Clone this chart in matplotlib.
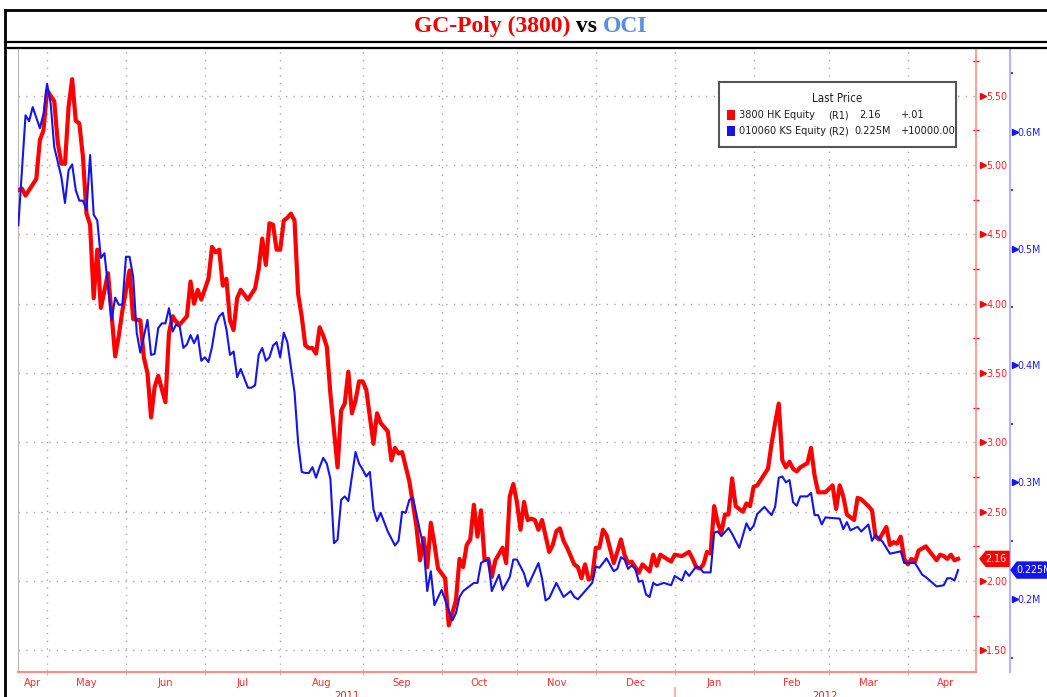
import numpy as np
import pandas as pd
import matplotlib
matplotlib.use("Agg")
import matplotlib.pyplot as plt
from matplotlib.patches import Rectangle, Polygon
from matplotlib.lines import Line2D
from matplotlib.offsetbox import TextArea, HPacker, AnnotationBbox
from matplotlib.textpath import TextPath
from matplotlib import font_manager

# ── Data: trading-day number (from 2011-04-20) and last price ───────
START = "2011-04-20"

red_day = [0, 1, 2, 5, 6, 7, 8, 10, 11, 12, 13, 14, 15, 16, 17, 18, 19, 20, 21, 22,
           23, 25, 27, 28, 29, 31, 32, 34, 35, 36, 37, 38, 39, 41, 42, 43, 44, 45, 47, 48,
           49, 50, 51, 53, 54, 55, 56, 57, 58, 59, 60, 61, 62, 64, 66, 67, 68, 69, 70, 71,
           72, 73, 74, 75, 76, 77, 78, 79, 80, 81, 82, 83, 84, 85, 86, 87, 89, 90, 91, 92,
           93, 94, 95, 96, 97, 99, 100, 101, 103, 104, 105, 106, 107, 109, 110, 111, 112, 113, 114, 115,
           116, 117, 119, 120, 122, 123, 124, 125, 126, 127, 128, 129, 130, 131, 132, 133, 135, 136, 137, 138,
           139, 140, 141, 142, 143, 144, 145, 146, 148, 149, 150, 151, 152, 153, 154, 155, 156, 157, 158, 159,
           160, 161, 162, 163, 164, 166, 167, 168, 169, 170, 171, 172, 173, 174, 176, 177, 178, 179, 182, 183,
           185, 187, 188, 189, 190, 191, 192, 193, 194, 195, 196, 197, 198, 199, 200, 202, 203, 204, 205, 206,
           207, 209, 210, 211, 212, 213, 214, 215, 216, 217, 218, 220, 221, 222, 223, 225, 227, 228, 229, 230,
           231, 232, 233, 234, 235, 237, 238, 239, 240, 242, 243, 244, 245, 246, 247, 248, 249, 250, 251, 253,
           256, 257, 258, 259, 260, 261, 262]
red_px = [4.82, 4.83, 4.78, 4.90, 5.18, 5.25, 5.54, 5.46, 5.16, 5.01, 5.01, 5.42, 5.62, 5.32, 5.30, 5.06, 4.65, 4.57, 4.04, 4.39,
          3.97, 4.22, 3.62, 3.77, 3.95, 4.24, 3.89, 3.88, 3.61, 3.50, 3.18, 3.40, 3.48, 3.29, 3.79, 3.91, 3.87, 3.85, 3.91, 4.16,
          4.00, 4.10, 4.03, 4.18, 4.41, 4.37, 4.39, 4.13, 4.18, 3.88, 3.81, 4.04, 4.10, 4.03, 4.11, 4.25, 4.47, 4.28, 4.58, 4.57,
          4.39, 4.39, 4.60, 4.62, 4.65, 4.60, 4.07, 3.91, 3.70, 3.68, 3.68, 3.64, 3.83, 3.77, 3.69, 3.35, 2.82, 3.23, 3.28, 3.51,
          3.21, 3.30, 3.44, 3.44, 3.38, 2.99, 3.21, 3.14, 3.08, 2.87, 2.96, 2.92, 2.93, 2.72, 2.56, 2.39, 2.15, 2.31, 2.10, 2.42,
          2.27, 2.09, 2.02, 1.68, 1.86, 2.16, 2.10, 2.26, 2.30, 2.55, 2.32, 2.51, 2.15, 2.16, 2.03, 2.15, 2.24, 2.13, 2.61, 2.70,
          2.57, 2.37, 2.57, 2.44, 2.45, 2.44, 2.37, 2.44, 2.21, 2.26, 2.36, 2.38, 2.29, 2.24, 2.18, 2.12, 2.10, 2.02, 2.12, 2.01,
          2.03, 2.24, 2.24, 2.37, 2.33, 2.13, 2.21, 2.30, 2.19, 2.13, 2.14, 2.10, 2.06, 2.12, 2.07, 2.19, 2.11, 2.19, 2.14, 2.19,
          2.18, 2.21, 2.16, 2.10, 2.09, 2.12, 2.21, 2.20, 2.54, 2.42, 2.35, 2.48, 2.48, 2.74, 2.54, 2.50, 2.56, 2.54, 2.68, 2.69,
          2.73, 2.81, 2.99, 3.14, 3.28, 2.87, 2.82, 2.86, 2.81, 2.79, 2.82, 2.85, 2.96, 2.76, 2.64, 2.64, 2.69, 2.52, 2.69, 2.61,
          2.48, 2.46, 2.44, 2.60, 2.59, 2.54, 2.51, 2.32, 2.30, 2.39, 2.26, 2.28, 2.27, 2.32, 2.16, 2.12, 2.16, 2.14, 2.22, 2.25,
          2.15, 2.19, 2.18, 2.16, 2.19, 2.15, 2.16]

blue_day = [0, 2, 3, 4, 5, 6, 7, 8, 9, 10, 12, 13, 14, 15, 16, 17, 18, 19, 20, 21,
            22, 23, 24, 26, 27, 28, 29, 30, 31, 32, 33, 34, 36, 37, 38, 39, 40, 41, 42, 43,
            44, 45, 46, 47, 48, 49, 50, 51, 52, 53, 54, 55, 56, 57, 58, 59, 60, 61, 62, 64,
            65, 66, 67, 68, 69, 70, 71, 72, 73, 74, 75, 77, 78, 79, 80, 81, 82, 83, 84, 85,
            86, 87, 88, 89, 90, 91, 92, 94, 95, 96, 97, 98, 99, 100, 101, 103, 105, 106, 107, 108,
            109, 110, 112, 113, 114, 115, 116, 118, 121, 122, 123, 124, 127, 128, 129, 130, 131, 132, 134, 135,
            137, 138, 139, 141, 142, 145, 146, 147, 148, 150, 152, 154, 155, 156, 158, 160, 161, 162, 164, 166,
            167, 168, 169, 170, 171, 172, 173, 174, 175, 176, 177, 178, 180, 182, 183, 185, 186, 187, 189, 190,
            191, 193, 194, 195, 196, 198, 199, 201, 203, 204, 205, 206, 208, 210, 211, 212, 213, 214, 215, 216,
            217, 218, 220, 221, 222, 223, 224, 225, 229, 230, 231, 232, 234, 235, 237, 238, 239, 240, 241, 243,
            246, 247, 250, 252, 253, 256, 258, 259, 260, 261, 262]
blue_px = [0.520, 0.614, 0.609, 0.621, 0.612, 0.603, 0.615, 0.641, 0.624, 0.587, 0.561, 0.539, 0.567, 0.572, 0.550, 0.541, 0.541, 0.533, 0.580, 0.529,
           0.524, 0.492, 0.496, 0.439, 0.458, 0.452, 0.452, 0.493, 0.493, 0.476, 0.428, 0.411, 0.439, 0.409, 0.410, 0.432, 0.436, 0.436, 0.449, 0.429,
           0.435, 0.433, 0.415, 0.418, 0.426, 0.419, 0.426, 0.404, 0.407, 0.403, 0.416, 0.435, 0.442, 0.445, 0.431, 0.409, 0.412, 0.390, 0.397, 0.381,
           0.381, 0.383, 0.409, 0.415, 0.404, 0.407, 0.417, 0.420, 0.407, 0.428, 0.420, 0.377, 0.334, 0.309, 0.308, 0.308, 0.313, 0.304, 0.313, 0.321,
           0.316, 0.303, 0.248, 0.251, 0.285, 0.288, 0.284, 0.326, 0.316, 0.311, 0.305, 0.309, 0.277, 0.267, 0.274, 0.258, 0.246, 0.250, 0.275, 0.274,
           0.285, 0.287, 0.258, 0.245, 0.207, 0.224, 0.195, 0.208, 0.182, 0.188, 0.202, 0.207, 0.214, 0.214, 0.231, 0.233, 0.234, 0.207, 0.221, 0.208,
           0.219, 0.234, 0.234, 0.222, 0.211, 0.231, 0.218, 0.199, 0.201, 0.214, 0.202, 0.207, 0.202, 0.200, 0.207, 0.214, 0.228, 0.227, 0.235, 0.224,
           0.226, 0.236, 0.234, 0.226, 0.229, 0.226, 0.215, 0.216, 0.204, 0.202, 0.214, 0.212, 0.214, 0.212, 0.220, 0.216, 0.224, 0.220, 0.228, 0.227,
           0.223, 0.223, 0.257, 0.258, 0.254, 0.261, 0.256, 0.244, 0.265, 0.259, 0.263, 0.273, 0.279, 0.272, 0.279, 0.304, 0.305, 0.300, 0.302, 0.283,
           0.280, 0.288, 0.288, 0.291, 0.272, 0.272, 0.264, 0.270, 0.269, 0.260, 0.266, 0.259, 0.262, 0.258, 0.264, 0.250, 0.255, 0.252, 0.249, 0.239,
           0.241, 0.231, 0.231, 0.221, 0.219, 0.211, 0.212, 0.218, 0.218, 0.216, 0.225]

red_ticks = [1.5, 2.0, 2.5, 3.0, 3.5, 4.0, 4.5, 5.0, 5.5]
red_minor = [1.75, 2.25, 2.75, 3.25, 3.75, 4.25, 4.75, 5.25, 5.75]
blue_ticks = [0.2, 0.3, 0.4, 0.5, 0.6]
blue_minor = [0.15, 0.25, 0.35, 0.45, 0.55, 0.65]

title_parts = ["GC-Poly (3800)", " vs ", "OCI"]
legend_rows = [("3800 HK Equity", "(R1)", "2.16", "+.01"),
               ("010060 KS Equity", "(R2)", "0.225M", "+10000.00")]

# ── Style ─────────────────────────────────────────────────────
W, H = 1047, 697
RED = "#FF0000"
BLUE = "#1414EE"
GRID = "#A8A8A8"


def pick_font():
    """Prefer a narrow sans (Bloomberg look); fall back to DejaVu Sans."""
    best, best_rank = None, 99
    for f in font_manager.fontManager.ttflist:
        w = f.weight if isinstance(f.weight, int) else font_manager.weight_dict.get(f.weight, 400)
        st = f.stretch if isinstance(f.stretch, int) else font_manager.stretch_dict.get(f.stretch, 500)
        if f.style != "normal" or w != 400:
            continue
        name = f.name
        if "CJK" in name or "Mono" in name or "Serif" in name:
            continue
        if name == "Liberation Sans Narrow":
            rank = 0
        elif "Narrow" in name or "Condensed" in name or 300 <= st <= 400:
            rank = 1
        elif name == "DejaVu Sans" and st == 500:
            rank = 5
        else:
            continue
        if rank < best_rank:
            best, best_rank = f.fname, rank
    return best


FONT_FILE = pick_font()


def fp(size):
    return font_manager.FontProperties(fname=FONT_FILE, size=size)


def fit(text, px):
    """Font size (pt) that makes `text` about `px` pixels wide."""
    w = TextPath((0, 0), text, size=10, prop=fp(10)).get_extents().width
    return 10 * px * 0.72 / w


TICK_SIZE = min(max(fit("5.50", 20), 7.5), 10)
MONTH_SIZE = min(max(fit("May", 18), 8.0), 10)
LEG_SIZE = min(fit("010060 KS Equity", 86), 9.5)


def fx(px):
    return px / W


def fy(py):
    return 1 - py / H


# trading-day calendar for the x axis
days = pd.bdate_range(START, "2012-05-31")
month_starts = [i for i in range(1, len(days)) if days[i].month != days[i - 1].month]
XMAX = 267
vis_starts = [m for m in month_starts if m < XMAX]
bounds = [0] + month_starts
mid = [(bounds[i] + bounds[i + 1]) / 2 for i in range(len(bounds) - 1) if bounds[i] < XMAX]
mid_labels = [days[int(b)].strftime("%b") for b in bounds[:len(mid)]]
year_break = [m for m in month_starts if days[m].month == 1][0]

fig = plt.figure(figsize=(W / 100, H / 100), dpi=100)
ax = fig.add_axes([fx(18), 25 / H, 958 / W, 623 / H])
ax2 = ax.twinx()

ax.plot(red_day, red_px, color=RED, lw=3.0, zorder=3)
ax.set_xlim(-0.1, XMAX)
ax.set_ylim(1.344, 5.837)

# grid + ticks (red, right side)
ax.yaxis.tick_right()
ax.yaxis.set_label_position("right")
ax.set_yticks(red_ticks)
ax.set_yticklabels([f"{t:.2f}" for t in red_ticks])
ax.set_yticks(red_minor, minor=True)
ax.tick_params(axis="y", which="major", length=0, pad=7.5, labelcolor="#FF2020")
ax.tick_params(axis="y", which="minor", length=4, width=1, direction="inout", color=RED)
ax.grid(axis="y", which="major", color=GRID, linestyle=(0, (1, 4.5)), lw=1)
ax.plot([1 + 7 / 958] * len(red_ticks), red_ticks, transform=ax.get_yaxis_transform(),
        marker=">", ms=5, color=RED, ls="none", clip_on=False)
for lbl in ax.get_yticklabels():
    lbl.set_fontproperties(fp(TICK_SIZE))

ax.set_xticks(vis_starts)
ax.set_xticklabels([""] * len(vis_starts))
ax.set_xticks(mid, minor=True)
ax.set_xticklabels(mid_labels, minor=True)
ax.tick_params(axis="x", which="major", length=4, direction="inout", color="#C0C0C0")
ax.tick_params(axis="x", which="minor", length=0, pad=4, labelcolor="#FF3030")
for lbl in ax.get_xticklabels(minor=True):
    lbl.set_fontproperties(fp(MONTH_SIZE))
ax.grid(axis="x", which="major", color=GRID, linestyle=(0, (1, 4.5)), lw=1)

ax.spines["top"].set_visible(False)
ax.spines["left"].set_color("#B8B8B8")
ax.spines["bottom"].set_color("#FF8C8C")
ax.spines["bottom"].set_linewidth(1.5)
ax.spines["right"].set_color("#FF8C8C")
ax.spines["right"].set_linewidth(1.2)

# year labels and year separator under the axis
xt = ax.get_xaxis_transform()
ax.text(year_break / 2, -19 / 623, str(days[0].year), transform=xt, ha="center", va="top",
        color="#E02020", fontproperties=fp(MONTH_SIZE), clip_on=False)
ax.text((year_break + XMAX) / 2, -19 / 623, str(days[year_break].year), transform=xt,
        ha="center", va="top", color="#E02020", fontproperties=fp(MONTH_SIZE), clip_on=False)
ax.plot([year_break, year_break], [-16 / 623, -30 / 623], transform=xt, color="#FFB0B0",
        lw=1.5, clip_on=False)

# ── Blue axis (R2) ────────────────────────────────────────────
ax2.plot(blue_day, blue_px, color=BLUE, lw=1.5, zorder=3)
ax2.set_xlim(-0.1, XMAX)
ax2.set_ylim(0.1378, 0.6707)
ax2.spines["right"].set_position(("outward", 34 * 0.72))
ax2.spines["right"].set_color("#B4B4FF")
ax2.spines["right"].set_linewidth(1.5)
for s in ("left", "top", "bottom"):
    ax2.spines[s].set_visible(False)
ax2.set_yticks(blue_ticks)
ax2.set_yticklabels([f"{t:.1f}M" for t in blue_ticks])
ax2.set_yticks(blue_minor, minor=True)
ax2.tick_params(axis="y", which="major", length=0, pad=5, labelcolor="#2020E0")
ax2.tick_params(axis="y", which="minor", length=2, width=1.2, direction="out", color=BLUE)
for lbl in ax2.get_yticklabels():
    lbl.set_fontproperties(fp(TICK_SIZE))
ax2.plot([1 + 39 / 958] * len(blue_ticks), blue_ticks, transform=ax2.get_yaxis_transform(),
         marker=">", ms=5, color=BLUE, ls="none", clip_on=False)


# ── Last price tags ───────────────────────────────────────────
def tag(axis, value, text, x0, x1, half, color):
    yc = H - axis.transData.transform((0, value))[1]
    pts = [(x0, yc), (x0 + 6, yc - half), (x1, yc - half), (x1, yc + half), (x0 + 6, yc + half)]
    fig.patches.append(Polygon([(fx(a), fy(b)) for a, b in pts], closed=True,
                               transform=fig.transFigure, fc=color, ec=color, zorder=5))
    fig.text(fx(x0 + 5), fy(yc), text, color="white", fontproperties=fp(TICK_SIZE),
             ha="left", va="center", zorder=6)


tag(ax, red_px[-1], f"{red_px[-1]:.2f}", 980, 1009, 7.5, RED)
tag(ax2, blue_px[-1], f"{blue_px[-1]:.3f}M", 1011, 1060, 8, BLUE)

# ── Legend box ────────────────────────────────────────────────
fig.patches.append(Rectangle((fx(719), fy(147)), 237 / W, 65 / H, transform=fig.transFigure,
                             fc="white", ec="#555555", lw=1.5, zorder=5))
fig.text(fx(837), fy(99), "Last Price", ha="center", va="center", fontproperties=fp(LEG_SIZE + 0.5),
         color="#202020", zorder=6)
for i, (row, col) in enumerate(zip(legend_rows, [RED, BLUE])):
    y = 115 + 16 * i
    fig.patches.append(Rectangle((fx(727), fy(y + 5)), 8 / W, 10 / H, transform=fig.transFigure,
                                 fc=col, ec="none", zorder=6))
    for txt, x in zip(row, [739, 828, 859 if i == 0 else 854, 901]):
        fig.text(fx(x), fy(y), txt, ha="left", va="center", fontproperties=fp(LEG_SIZE),
                 color="#202020", zorder=6)

# ── Title frame ───────────────────────────────────────────────
for y, lw in [(10, 2.0), (42, 1.6), (47.5, 1.6)]:
    fig.lines.append(Line2D([fx(5), 1], [fy(y), fy(y)], transform=fig.transFigure,
                            color="black", lw=lw))
fig.lines.append(Line2D([fx(5), fx(5)], [fy(10), 0], transform=fig.transFigure,
                        color="black", lw=2.0))

tprops = dict(fontsize=17, fontweight="bold", family="Liberation Serif")
parts = [TextArea(t, textprops=dict(color=c, **tprops))
         for t, c in zip(title_parts, ["#F00000", "black", "#5B8FDC"])]
title = HPacker(children=parts, align="baseline", pad=0, sep=0)
fig.add_artist(AnnotationBbox(title, (fx(531), fy(26)), xycoords="figure fraction",
                              frameon=False, box_alignment=(0.5, 0.5)))

fig.savefig("out.png", dpi=100)
